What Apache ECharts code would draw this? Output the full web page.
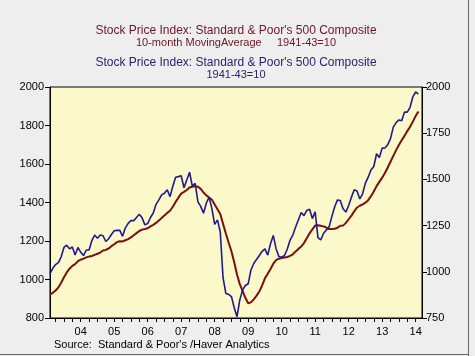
<!DOCTYPE html>
<html>
<head>
<meta charset="utf-8">
<script src="https://cdn.jsdelivr.net/npm/echarts@6/dist/echarts.min.js"></script>
<style>
html,body{margin:0;padding:0;background:#eeeeee;}
#c{width:475px;height:356px;}
</style>
</head>
<body>
<div id="c"></div>
<script>
// Monthly data, Aug 2003 .. Aug 2014
var startYear = 2003, startMonth = 8;
var sp500 = [
  990,1019,1039,1050,1081,
  1132,1144,1124,1134,1091,1132,1106,1088,1118,1118,1169,1199,
  1182,1199,1195,1164,1179,1202,1222,1224,1225,1192,1238,1262,
  1278,1277,1294,1311,1292,1254,1261,1294,1318,1365,1389,1416,
  1425,1444,1407,1463,1512,1515,1520,1455,1497,1539,1463,1479,
  1378,1354,1317,1371,1404,1342,1257,1281,1217,968,883,878,
  866,806,757,848,902,926,935,1010,1045,1067,1088,1111,
  1124,1090,1152,1197,1125,1083,1079,1088,1122,1171,1199,1242,
  1282,1321,1304,1332,1338,1288,1325,1185,1173,1207,1226,1243,
  1300,1352,1389,1386,1341,1323,1359,1404,1444,1437,1394,1422,
  1480,1512,1551,1570,1639,1618,1669,1670,1688,1721,1783,1807,
  1822,1817,1864,1864,1890,1947,1973,1961
];
var ma10 = [
  922,931,943,959,983,
  1012,1037,1056,1071,1080,1095,1103,1108,1115,1119,1122,1128,
  1134,1140,1151,1154,1161,1173,1183,1194,1199,1198,1204,1210,
  1219,1230,1241,1252,1259,1262,1266,1276,1284,1294,1306,1319,
  1333,1346,1357,1378,1403,1425,1446,1455,1465,1478,1482,1485,
  1482,1471,1452,1437,1426,1414,1390,1365,1340,1289,1239,1192,
  1147,1090,1026,976,941,905,877,881,897,916,938,969,
  1006,1030,1055,1082,1101,1108,1112,1114,1117,1123,1131,1146,
  1159,1171,1189,1214,1240,1260,1280,1282,1279,1276,1270,1262,
  1262,1264,1269,1279,1280,1294,1313,1332,1354,1374,1383,1390,
  1399,1412,1433,1457,1485,1507,1529,1553,1582,1612,1642,1672,
  1699,1723,1746,1771,1793,1820,1849,1873
];
var yearLabels = ['04','05','06','07','08','09','10','11','12','13','14'];
var labelYears = [2004,2005,2006,2007,2008,2009,2010,2011,2012,2013,2014];

function xOf(i){ return startYear + (startMonth - 1 + i) / 12; }
var spData = sp500.map(function(v,i){ return [xOf(i), v]; });
var maData = ma10.map(function(v,i){ return [xOf(i), v]; });

var xMin = xOf(0), xMax = 2014.69;
var quarterTicks = [];
for (var y = 2003; y <= 2014; y++) {
  for (var q = 0; q < 4; q++) {
    var v = y + q / 4;
    if (v > xMin && v < xMax) quarterTicks.push(v);
  }
}
var labelPos = labelYears.map(function(y){ return y + 0.5; });

var FONT = '"Liberation Sans", Arial, sans-serif';
var chart = echarts.init(document.getElementById('c'), null, {renderer:'canvas'});
chart.setOption({
  backgroundColor: '#eeeeee',
  animation: false,
  textStyle: {fontFamily: FONT},
  grid: {left: 50, right: 53, top: 87, bottom: 38, show: true,
         backgroundColor: '#fbf8c9', borderColor: '#000', borderWidth: 1},
  graphic: [
    {type:'text', style:{x:236, y:31, text:"Stock Price Index: Standard & Poor's 500 Composite",
      fill:'#6e1426', font:'12px '+FONT, textAlign:'center', textVerticalAlign:'middle'}},
    {type:'text', style:{x:236, y:42.5, text:"10-month MovingAverage     1941-43=10",
      fill:'#6e1426', font:'11px '+FONT, textAlign:'center', textVerticalAlign:'middle'}},
    {type:'text', style:{x:236, y:63, text:"Stock Price Index: Standard & Poor's 500 Composite",
      fill:'#26246e', font:'12px '+FONT, textAlign:'center', textVerticalAlign:'middle'}},
    {type:'text', style:{x:236, y:74.5, text:"1941-43=10",
      fill:'#26246e', font:'11px '+FONT, textAlign:'center', textVerticalAlign:'middle'}},
    {type:'text', style:{x:54, y:345, text:"Source:  Standard & Poor's /Haver Analytics",
      fill:'#000', font:'11px '+FONT, textAlign:'left', textVerticalAlign:'middle'}},
    {type:'line', shape:{x1:468.5, y1:0, x2:468.5, y2:356}, style:{stroke:'#666', lineWidth:1}},
    {type:'line', shape:{x1:0, y1:354.5, x2:469, y2:354.5}, style:{stroke:'#666', lineWidth:1}}
  ],
  xAxis: [
    {type:'value', min:xMin, max:xMax, position:'bottom',
     axisLine:{show:true, lineStyle:{color:'#000'}},
     splitLine:{show:false},
     axisTick:{show:true, inside:false, length:4, customValues: quarterTicks, lineStyle:{color:'#000'}},
     axisLabel:{show:true, customValues: labelPos, color:'#000', fontSize:11, fontFamily:FONT, margin:8,
       formatter:function(v){ var k = Math.round(v - 0.5) - 2004; return yearLabels[k] || ''; }}
    }
  ],
  yAxis: [
    {type:'value', min:800, max:2000, interval:200, position:'left',
     axisLine:{show:true, lineStyle:{color:'#000'}},
     axisTick:{show:true, length:5, lineStyle:{color:'#000'}},
     splitLine:{show:false},
     axisLabel:{color:'#000', fontSize:11, fontFamily:FONT, margin:6,
       formatter:function(v){ return String(v); }}},
    {type:'value', min:750, max:2000, interval:250, position:'right',
     axisLine:{show:true, lineStyle:{color:'#000'}},
     axisTick:{show:true, length:5, lineStyle:{color:'#000'}},
     splitLine:{show:false},
     axisLabel:{color:'#000', fontSize:11, fontFamily:FONT, margin:4,
       formatter:function(v){ return String(v); }}}
  ],
  series: [
    {name:'Stock Price Index: S&P 500 Composite (10-month MA)', type:'line', data:maData,
     xAxisIndex:0, yAxisIndex:0, showSymbol:false, symbol:'none',
     lineStyle:{color:'#7a1010', width:2}, z:3},
    {name:'Stock Price Index: S&P 500 Composite', type:'line', data:spData,
     xAxisIndex:0, yAxisIndex:1, showSymbol:false, symbol:'none',
     lineStyle:{color:'#211a8f', width:1.6}, z:4}
  ]
});
</script>
</body>
</html>
